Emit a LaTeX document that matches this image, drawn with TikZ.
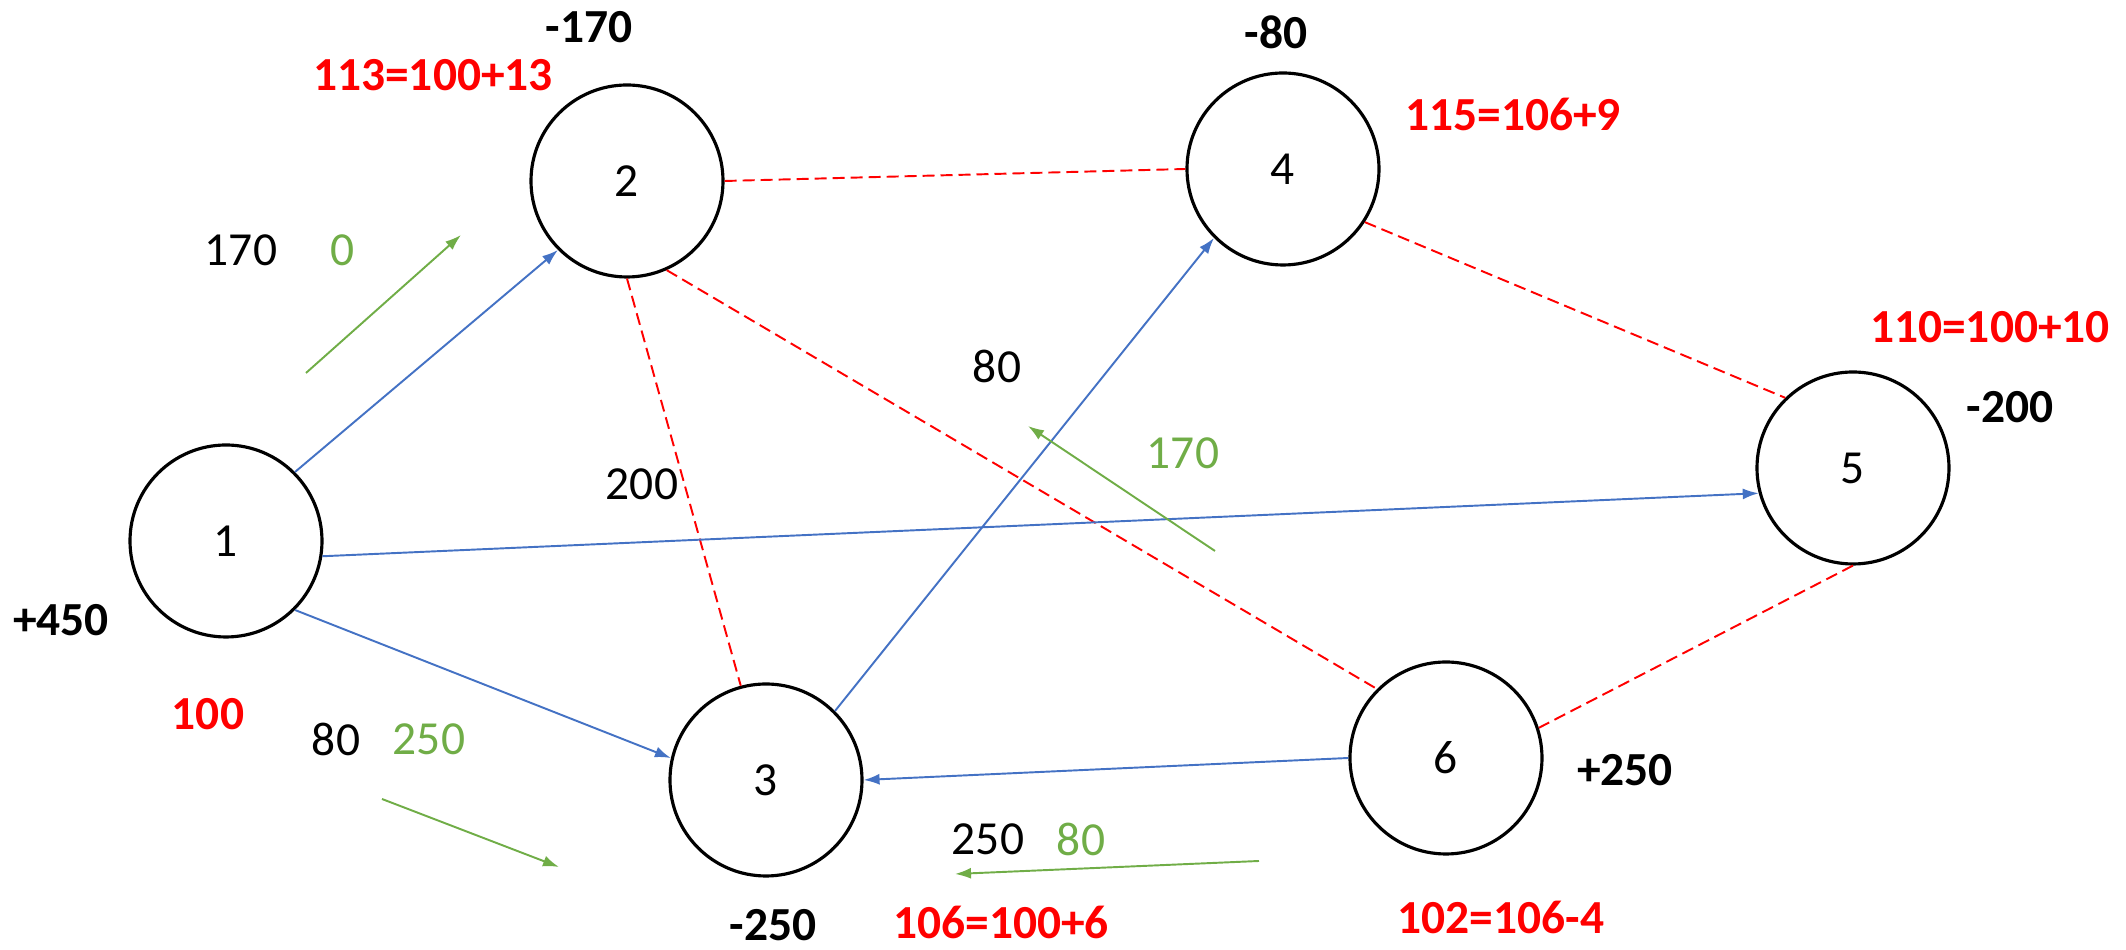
\documentclass[tikz,border=0pt]{standalone}
\usepackage{fontspec}
\setmainfont{Carlito}
\usepackage{tikz}
\usetikzlibrary{arrows.meta}
\definecolor{arcblue}{HTML}{4472C4}
\definecolor{flowgreen}{HTML}{70AD47}
\definecolor{potred}{HTML}{FF0000}

\begin{document}
\begin{tikzpicture}[font=\fontsize{13.5}{16}\selectfont,
                netnode/.style={circle, draw, line width=0.9pt, minimum size=1.92cm, inner sep=0pt},
                arc/.style={draw=arcblue, line width=0.55pt, -{Latex[length=1.6mm,width=1.1mm]}},
                cutarc/.style={draw=potred, line width=0.55pt, dash pattern=on 1.2mm off 0.6mm},
                flowarr/.style={draw=flowgreen, line width=0.55pt, -{Latex[length=1.6mm,width=1.1mm]}},
                bal/.style={inner sep=1pt, font=\fontsize{13.5}{16}\selectfont\bfseries},
                pot/.style={inner sep=1pt, text=potred, font=\fontsize{13.5}{16}\selectfont\bfseries},
                flowval/.style={text=flowgreen}]
                \useasboundingbox (0,0) rectangle (21.26,9.5);
                \node [netnode] (n1) at (2.26,4.09) {1};
                \node [netnode] (n2) at (6.27,7.69) {2};
                \node [netnode] (n3) at (7.66,1.70) {3};
                \node [netnode] (n4) at (12.83,7.81) {4};
                \node [netnode] (n5) at (18.53,4.82) {5};
                \node [netnode] (n6) at (14.46,1.92) {6};
                \draw [cutarc] (n2.east) -- (n4.west);
                \draw [cutarc] (n2.south) -- (n3.105);
                \draw [cutarc] (n2.-66) -- (n6.135);
                \draw [cutarc] (n4.-33) -- (n5.134);
                \draw [cutarc] (n5.south) -- (n6.18);
                \draw [arc] (n1.45) -- (n2.225);
                \draw [arc] (n1.-45) -- (n3.167);
                \draw [arc] (n1.-9) -- (n5.195);
                \draw [arc] (n3.45) -- (n4.225);
                \draw [arc] (n6.west) -- (n3.east);
                \coordinate (g12a) at (3.06,5.77);
                \coordinate (g12b) at (4.61,7.15);
                \coordinate (g34a) at (12.15,3.99);
                \coordinate (g34b) at (10.28,5.24);
                \coordinate (g13a) at (3.82,1.51);
                \coordinate (g13b) at (5.59,0.83);
                \coordinate (g63a) at (12.59,0.89);
                \coordinate (g63b) at (9.55,0.76);
                \draw [flowarr] (g12a) -- (g12b);
                \draw [flowarr] (g34a) -- (g34b);
                \draw [flowarr] (g13a) -- (g13b);
                \draw [flowarr] (g63a) -- (g63b);
                \node [bal] (b1) at (0.61,3.30) {+450};
                \node [bal] (b2) at (5.89,9.23) {-170};
                \node [bal] (b3) at (7.73,0.25) {-250};
                \node [bal] (b4) at (12.76,9.18) {-80};
                \node [bal] (b5) at (20.10,5.43) {-200};
                \node [bal] (b6) at (16.25,1.80) {+250};
                \node [pot] (p1) at (2.08,2.36) {100};
                \node [pot] (p2) at (4.33,8.75) {113=100+13};
                \node [pot] (p3) at (10.01,0.28) {106=100+6};
                \node [pot] (p4) at (15.13,8.36) {115=106+9};
                \node [pot] (p5) at (19.90,6.23) {110=100+10};
                \node [pot] (p6) at (15.01,0.33) {102=106-4};
                \node (c12) at (2.41,7.00) {170};
                \node [flowval] (f12) at (3.43,7.00) {0};
                \node (c23) at (6.42,4.66) {200};
                \node (c34) at (9.97,5.84) {80};
                \node [flowval] (f34) at (11.83,4.97) {170};
                \node (c13) at (3.36,2.11) {80};
                \node [flowval] (f13) at (4.29,2.11) {250};
                \node (c63) at (9.88,1.11) {250};
                \node [flowval] (f63) at (10.81,1.11) {80};
            \end{tikzpicture}
\end{document}
